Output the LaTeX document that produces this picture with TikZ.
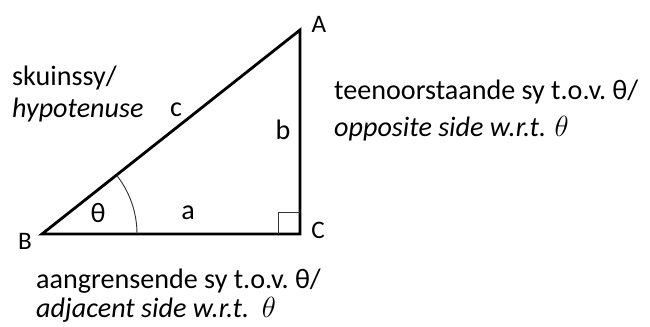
\documentclass[tikz,border=0pt]{standalone}
\usepackage{fontspec}
\setmainfont{Carlito}
\usetikzlibrary{positioning, calc}

\begin{document}
\begin{tikzpicture}[
    x=0.03cm, y=0.03cm,
    every node/.style={font=\fontsize{24}{29}\selectfont, inner sep=0pt},
    corner/.style={font=\fontsize{21.5}{26}\selectfont},
    side/.style={line width=2.4pt, line join=miter},
    thin mark/.style={line width=0.8pt, black!80}
]
\useasboundingbox (0,0) rectangle (650,326);

% Corners of the triangle
\coordinate (B) at (42, 92);
\coordinate (C) at (300, 92);
\coordinate (A) at (300, 296);

% Triangle
\draw[side] (B) -- (C) -- (A) -- cycle;

% Angle arc and right angle
\draw[thin mark] ($(B)+(95,0)$) arc[start angle=0, end angle=38.2, radius=95];
\draw[thin mark] ($(C)+(-22,0)$) |- ($(C)+(0,22)$);

% Corner labels
\node[corner] (lblA) at (319, 302) {A};
\node[corner] (lblB) at (25, 85) {B};
\node[corner] (lblC) at (318, 96) {C};

% Side labels
\node (lbla) at (188, 113) {a};
\node (lblb) at (283, 196) {b};
\node (lblc) at (176, 216) {c};
\node (lbltheta) at (98, 113) {θ};

% Hypotenuse text
\node[anchor=base west] (hypaf) at (12, 241) {skuinssy/};
\node[anchor=base west] (hypen) at (12, 209) {\itshape hypotenuse};

% Opposite side text
\node[anchor=base west] (oppaf) at (334, 227) {teenoorstaande sy t.o.v.\ θ/};
\node[anchor=base west] (oppen) at (334, 190) {\itshape opposite side w.r.t. $\theta$};

% Adjacent side text
\node[anchor=base west] (adjaf) at (36, 38) {aangrensende sy t.o.v.\ θ/};
\node[anchor=base west] (adjen) at (36, 9) {\itshape adjacent side w.r.t.\ \ $\theta$};
\end{tikzpicture}
\end{document}
